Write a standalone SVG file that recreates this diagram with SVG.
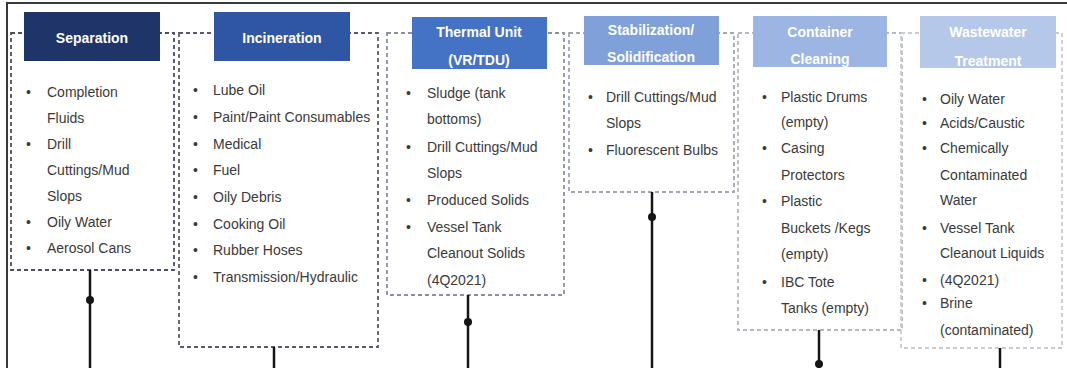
<svg xmlns="http://www.w3.org/2000/svg" width="1067" height="368" viewBox="0 0 1067 368">
<style>
.frame{fill:none;stroke:#3a3a3a;stroke-width:2}
.box{fill:none;stroke-width:1.8;stroke-dasharray:4 3}
.title{font-family:"Liberation Sans",Arial,sans-serif;font-size:14px;font-weight:bold;fill:#ffffff;text-anchor:middle}
.item{font-family:"Liberation Sans",Arial,sans-serif;font-size:14px;fill:#3a3a3a}
.conn{stroke:#151515;stroke-width:2.5;fill:none}
.dot{fill:#151515}
</style>
<rect x="0" y="0" width="1067" height="368" fill="#ffffff"/>
<path class="frame" d="M7,368 V3 H1067"/>

<g id="node-separation">
<rect class="box" x="11" y="33" width="163" height="237" stroke="#4a5060"/>
<rect x="24" y="12" width="136" height="49" fill="#1f3468"/>
<text class="title" x="92" y="43">Separation</text>
<g class="item">
<text x="26" y="97">•</text><text x="47" y="97">Completion</text>
<text x="47" y="123">Fluids</text>
<text x="26" y="149">•</text><text x="47" y="149">Drill</text>
<text x="47" y="175">Cuttings/Mud</text>
<text x="47" y="201">Slops</text>
<text x="26" y="227">•</text><text x="47" y="227">Oily Water</text>
<text x="26" y="253">•</text><text x="47" y="253">Aerosol Cans</text>
</g>
</g>

<g id="node-incineration">
<rect class="box" x="179" y="33" width="199" height="314" stroke="#565b67"/>
<rect x="214" y="12" width="136" height="49" fill="#2f55a5"/>
<text class="title" x="282" y="43">Incineration</text>
<g class="item">
<text x="193" y="95">•</text><text x="213" y="95">Lube Oil</text>
<text x="193" y="122">•</text><text x="213" y="122">Paint/Paint Consumables</text>
<text x="193" y="149">•</text><text x="213" y="149">Medical</text>
<text x="193" y="175">•</text><text x="213" y="175">Fuel</text>
<text x="193" y="202">•</text><text x="213" y="202">Oily Debris</text>
<text x="193" y="229">•</text><text x="213" y="229">Cooking Oil</text>
<text x="193" y="255">•</text><text x="213" y="255">Rubber Hoses</text>
<text x="193" y="282">•</text><text x="213" y="282">Transmission/Hydraulic</text>
</g>
</g>

<g id="node-thermal">
<rect class="box" x="387" y="33" width="177" height="262" stroke="#8a90a0"/>
<rect x="412" y="17" width="135" height="52" fill="#4472c4"/>
<text class="title" x="479" y="37">Thermal Unit</text>
<text class="title" x="479" y="65">(VR/TDU)</text>
<g class="item">
<text x="406" y="98">•</text><text x="427" y="98">Sludge (tank</text>
<text x="427" y="124">bottoms)</text>
<text x="406" y="152">•</text><text x="427" y="152">Drill Cuttings/Mud</text>
<text x="427" y="178">Slops</text>
<text x="406" y="205">•</text><text x="427" y="205">Produced Solids</text>
<text x="406" y="232">•</text><text x="427" y="232">Vessel Tank</text>
<text x="427" y="258">Cleanout Solids</text>
<text x="427" y="285">(4Q2021)</text>
</g>
</g>

<g id="node-stabilization">
<rect class="box" x="569" y="33" width="165" height="159" stroke="#a0a6b2"/>
<rect x="584" y="16" width="135" height="49" fill="#7fa0d8"/>
<text class="title" x="651" y="35">Stabilization/</text>
<text class="title" x="651" y="62">Solidification</text>
<g class="item">
<text x="588" y="102">•</text><text x="606" y="102">Drill Cuttings/Mud</text>
<text x="606" y="128">Slops</text>
<text x="588" y="155">•</text><text x="606" y="155">Fluorescent Bulbs</text>
</g>
</g>

<g id="node-container">
<rect class="box" x="738" y="33" width="164" height="297" stroke="#b3b8c2"/>
<rect x="753" y="16" width="134" height="51" fill="#9db5e3"/>
<text class="title" x="820" y="37">Container</text>
<text class="title" x="820" y="64">Cleaning</text>
<g class="item">
<text x="762" y="102">•</text><text x="781" y="102">Plastic Drums</text>
<text x="781" y="127">(empty)</text>
<text x="762" y="153">•</text><text x="781" y="153">Casing</text>
<text x="781" y="180">Protectors</text>
<text x="762" y="206">•</text><text x="781" y="206">Plastic</text>
<text x="781" y="233">Buckets /Kegs</text>
<text x="781" y="259">(empty)</text>
<text x="762" y="287">•</text><text x="781" y="287">IBC Tote</text>
<text x="781" y="313">Tanks (empty)</text>
</g>
</g>

<g id="node-wastewater">
<rect class="box" x="901" y="33" width="161" height="315" stroke="#c7ccd4"/>
<rect x="920" y="16" width="136" height="52" fill="#b5c8e9"/>
<text class="title" x="988" y="37">Wastewater</text>
<text class="title" x="988" y="66">Treatment</text>
<g class="item">
<text x="922" y="104">•</text><text x="940" y="104">Oily Water</text>
<text x="922" y="128">•</text><text x="940" y="128">Acids/Caustic</text>
<text x="922" y="153">•</text><text x="940" y="153">Chemically</text>
<text x="940" y="180">Contaminated</text>
<text x="940" y="205">Water</text>
<text x="922" y="233">•</text><text x="940" y="233">Vessel Tank</text>
<text x="940" y="258">Cleanout Liquids</text>
<text x="922" y="285">•</text><text x="940" y="285">(4Q2021)</text>
<text x="922" y="308">•</text><text x="940" y="308">Brine</text>
<text x="940" y="335">(contaminated)</text>
</g>
</g>

<g id="connectors">
<path class="conn" d="M90,270 V368"/>
<circle class="dot" cx="90" cy="300" r="4"/>
<path class="conn" d="M274,347 V368"/>
<path class="conn" d="M468,295 V368"/>
<circle class="dot" cx="468" cy="322" r="4"/>
<path class="conn" d="M652,192 V368"/>
<circle class="dot" cx="652" cy="217" r="4"/>
<path class="conn" d="M819,330 V368"/>
<circle class="dot" cx="819" cy="364" r="4"/>
<path class="conn" d="M1000,348 V368"/>
</g>
</svg>
